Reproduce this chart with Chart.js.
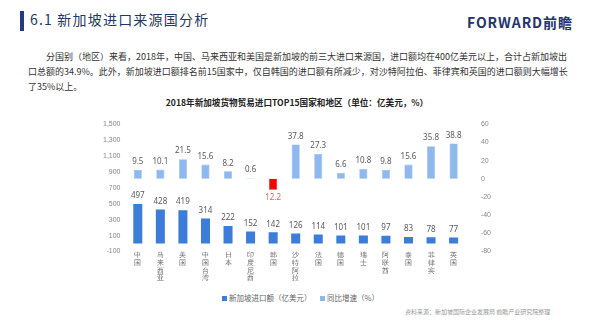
<!DOCTYPE html>
<html>
<head>
<meta charset="utf-8">
<script src="https://cdn.jsdelivr.net/npm/chart.js@4/dist/chart.umd.min.js"></script>
<style>
  body { margin: 0; width: 594px; height: 324px; background: #fff; position: relative; overflow: hidden;
         font-family: "Noto Sans CJK SC", "Noto Sans", sans-serif; }
  .bar { position: absolute; left: 20px; top: 11px; width: 4px; height: 20px; background: #1f3c88; }
  .head { position: absolute; left: 30px; top: 9px; font-size: 14px; color: #1f3864; letter-spacing: 1.2px; }
  .logo { position: absolute; left: 467px; top: 12px; font-size: 14px; font-weight: bold; color: #23346e; letter-spacing: 0.9px; }
  .para { position: absolute; left: 28px; top: 49px; width: 546px; font-size: 9px; line-height: 15px; color: #333; text-indent: 2em; }
  .ctitle { position: absolute; left: 0; width: 594px; top: 96px; text-align: center; font-size: 8.6px; font-weight: bold; color: #222; }
  #wrap { position: absolute; left: 97px; top: 112px; width: 406px; height: 170px; }
  .legend { position: absolute; top: 292px; font-size: 7.5px; color: #666; }
  .legend span.sw { display: inline-block; width: 5px; height: 5px; margin-right: 2px; vertical-align: 0px; }
  .src { position: absolute; left: 405px; top: 307px; font-size: 6px; color: #999; }
</style>
</head>
<body>
<div class="bar"></div>
<div class="head">6.1 新加坡进口来源国分析</div>
<div class="logo">FORWARD前瞻</div>
<div class="para">分国别（地区）来看，2018年，中国、马来西亚和美国是新加坡的前三大进口来源国，进口额均在400亿美元以上，合计占新加坡出口总额的34.9%。此外，新加坡进口额排名前15国家中，仅自韩国的进口额有所减少，对沙特阿拉伯、菲律宾和英国的进口额则大幅增长了35%以上。</div>
<div class="ctitle">2018年新加坡货物贸易进口TOP15国家和地区（单位：亿美元，%）</div>
<div id="wrap"><canvas id="myChart"></canvas></div>
<div class="legend" style="left:222px;"><span class="sw" style="background:#3b7dd8"></span>新加坡进口额（亿美元）</div>
<div class="legend" style="left:320px;"><span class="sw" style="background:#8fb9ee"></span>同比增速（%）</div>
<div class="src">资料来源：新加坡国际企业发展局 前瞻产业研究院整理</div>
<script>
  // data
  const countries = ["中国", "马来西亚", "美国", "中国台湾", "日本", "印度尼西亚", "韩国", "沙特阿拉伯",
    "法国", "德国", "瑞士", "阿联酋", "泰国", "菲律宾", "英国"];
  const imports = [497, 428, 419, 314, 222, 152, 142, 126, 114, 101, 101, 97, 83, 78, 77];
  const growth = [9.5, 10.1, 21.5, 15.6, 8.2, 0.6, -12.2, 37.8, 27.3, 6.6, 10.8, 9.8, 15.6, 35.8, 38.8];
  const leftTicks = [-100, 1500, 200];
  const rightTicks = [-80, 60, 20];

  const blue = "#3b7dd8";
  const lightBlue = "#8fb9ee";

  // value labels above/below bars
  const valueLabels = {
    id: "valueLabels",
    afterDatasetsDraw(chart) {
      const ctx = chart.ctx;
      ctx.save();
      ctx.font = "8px 'Noto Sans', sans-serif";
      ctx.textAlign = "center";
      chart.data.datasets.forEach(function (ds, i) {
        chart.getDatasetMeta(i).data.forEach(function (bar, j) {
          const v = ds.data[j];
          if (v < 0) {
            ctx.fillStyle = "#e06060";
            ctx.textBaseline = "top";
            ctx.fillText(String(v).replace("-", ""), bar.x, bar.y + 4);
          } else {
            ctx.fillStyle = "#595959";
            ctx.textBaseline = "bottom";
            ctx.fillText(String(v), bar.x, bar.y - 4);
          }
        });
      });
      ctx.restore();
    }
  };

  const config = {
    type: "bar",
    data: {
      labels: countries.map(function (c) { return c.split(""); }),
      datasets: [
        {
          label: "新加坡进口额（亿美元）",
          data: imports,
          yAxisID: "y",
          backgroundColor: blue,
          grouped: false,
          barPercentage: 0.4,
          categoryPercentage: 1
        },
        {
          label: "同比增速（%）",
          data: growth,
          yAxisID: "y1",
          backgroundColor: growth.map(function (g) { return g < 0 ? "#ff0000" : lightBlue; }),
          borderColor: growth.map(function (g) { return g < 0 ? "#b00000" : lightBlue; }),
          borderWidth: 0.6,
          grouped: false,
          barPercentage: 0.36,
          categoryPercentage: 1
        }
      ]
    },
    options: {
      responsive: true,
      maintainAspectRatio: false,
      animation: false,
      layout: { padding: { top: 6, right: 4 } },
      plugins: { legend: { display: false }, tooltip: { enabled: false } },
      scales: {
        x: {
          grid: { display: false },
          border: { display: false },
          ticks: {
            color: "#666",
            font: { size: 7, lineHeight: 1.1 },
            maxRotation: 0,
            autoSkip: false,
            padding: -8
          }
        },
        y: {
          position: "left",
          min: leftTicks[0],
          max: leftTicks[1],
          ticks: { stepSize: leftTicks[2], color: "#888", font: { size: 7 }, padding: 6 },
          border: { display: false },
          grid: {
            drawTicks: false,
            color: function (c) { return c.tick && c.tick.value === 0 ? "#d0d0d0" : "transparent"; }
          }
        },
        y1: {
          position: "right",
          min: rightTicks[0],
          max: rightTicks[1],
          ticks: { stepSize: rightTicks[2], color: "#888", font: { size: 7 }, padding: 8 },
          border: { display: false },
          grid: { display: false }
        }
      }
    },
    plugins: [valueLabels]
  };

  const myChart = new Chart(document.getElementById("myChart"), config);
</script>
</body>
</html>
